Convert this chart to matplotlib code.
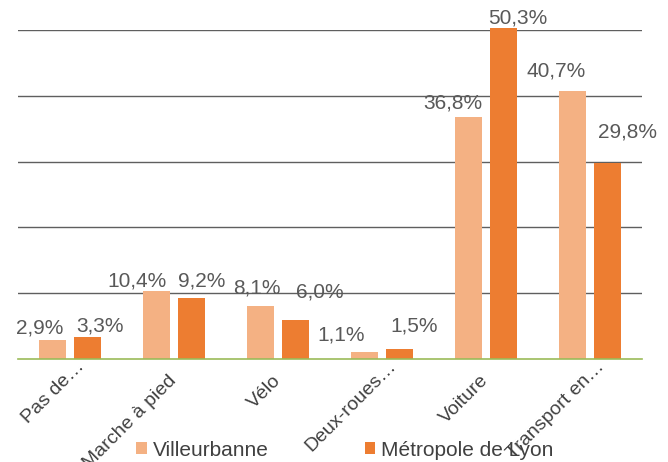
import numpy as np
import matplotlib
matplotlib.use('Agg')
import matplotlib.pyplot as plt
from matplotlib.patches import Patch
from matplotlib.transforms import ScaledTranslation

plt.rcParams['font.family'] = ['Liberation Sans', 'DejaVu Sans']

# ============================================================
# DONNEES
# ============================================================
categories = ['Pas de…', 'Marche à pied', 'Vélo', 'Deux-roues…', 'Voiture', 'Transport en…']
villeurbanne = [2.9, 10.4, 8.1, 1.1, 36.8, 40.7]
metropole = [3.3, 9.2, 6.0, 1.5, 50.3, 29.8]
series_names = ['Villeurbanne', 'Métropole de Lyon']

# ============================================================
# STYLE / MISE EN PAGE
# ============================================================
COL_LIGHT = '#F4B183'
COL_DARK = '#ED7D31'
LABEL_COLOR = '#595959'
TEXT_COLOR = '#404040'
FS = 15
FS_TICK = 14

# decalages des etiquettes (pixels) : (dx, dy) pour chaque barre
offs_v = [(-13, 12), (-19, 10), (-4, 18), (-23, 17), (-16, 14), (-16, 20)]
offs_m = [(12, 11), (10, 17), (24, 28), (15, 23), (14, 10), (20, 31)]
truncated = [True, False, False, True, False, True]

fig = plt.figure(figsize=(6.68, 4.62), dpi=100)
ax = fig.add_axes([18 / 668, 103 / 462, 624 / 668, 329 / 462])

x = np.arange(len(categories))
w = 0.26
gap = 0.077
b1 = ax.bar(x - (w + gap) / 2, villeurbanne, w, color=COL_LIGHT, clip_on=False, zorder=3)
b2 = ax.bar(x + (w + gap) / 2, metropole, w, color=COL_DARK, clip_on=False, zorder=3)

ax.set_xlim(-0.5, len(categories) - 0.5)
ax.set_ylim(0, 50)
ax.set_yticks([10, 20, 30, 40, 50])
ax.yaxis.grid(True, color='#5f5f5f', linewidth=1.0)
ax.set_axisbelow(True)
ax.tick_params(axis='y', length=0, labelleft=False)

for s in ['top', 'left', 'right']:
    ax.spines[s].set_visible(False)
ax.spines['bottom'].set_color('#9BBB59')
ax.spines['bottom'].set_linewidth(1.2)
ax.spines['bottom'].set_zorder(4)

def fmt(v):
    return f"{v:.1f}%".replace('.', ',')

for bars, vals, offs in [(b1, villeurbanne, offs_v), (b2, metropole, offs_m)]:
    for rect, v, (dx, dy) in zip(bars, vals, offs):
        ax.annotate(fmt(v), (rect.get_x() + rect.get_width() / 2, v),
                    xytext=(dx, dy), textcoords='offset pixels',
                    ha='center', va='center', fontsize=FS, color=LABEL_COLOR,
                    annotation_clip=False, zorder=5)

ax.set_xticks(x)
ax.set_xticklabels(categories, rotation=45, ha='right', va='center',
                   rotation_mode='anchor', fontsize=FS_TICK, color=TEXT_COLOR)
ax.tick_params(axis='x', length=0, pad=13.5)

for lab, tr in zip(ax.get_xticklabels(), truncated):
    if tr:
        lab.set_transform(lab.get_transform() +
                          ScaledTranslation(0.12, 0.14, fig.dpi_scale_trans))

handles = [Patch(facecolor=COL_LIGHT), Patch(facecolor=COL_DARK)]
fig.legend(handles, series_names, loc='center', bbox_to_anchor=(345 / 668, 1 - 450 / 462),
           ncol=2, frameon=False, fontsize=FS, labelcolor=TEXT_COLOR,
           handlelength=0.5, handleheight=0.5, handletextpad=0.3,
           columnspacing=4.6, borderaxespad=0, borderpad=0)

fig.savefig('out.png', dpi=100)
